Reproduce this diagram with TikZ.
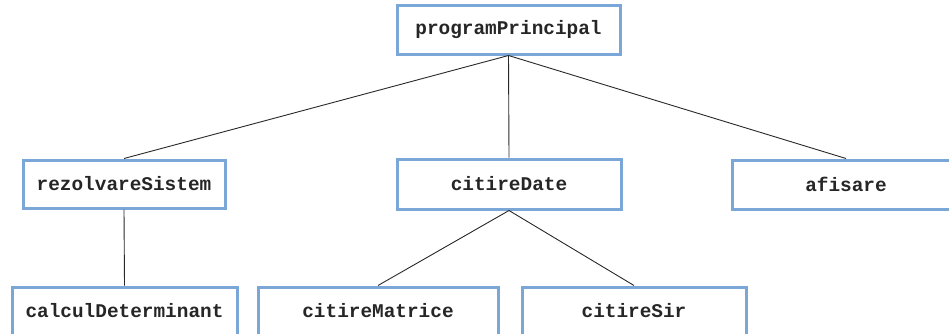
\documentclass[tikz,border=0pt]{standalone}
\usepackage{fontspec}
\setmonofont{Liberation Mono}
\definecolor{boxblue}{RGB}{122,166,216}
\definecolor{linegray}{RGB}{40,40,40}
\begin{document}
\begin{tikzpicture}[x=1pt,y=-1pt,
  fbox/.style={draw=boxblue, line width=3pt, fill=white, inner sep=0pt,
    minimum height=48pt, font=\fontsize{19.4}{22}\selectfont\ttfamily\bfseries, text=black!85},
  conn/.style={draw=linegray, line width=0.9pt}]
\useasboundingbox (0,0) rectangle (949,333);
\clip (0,0) rectangle (949,333);
\node[fbox, minimum width=223pt, minimum height=49pt] (pp) at (508.5,29.5) {programPrincipal};
\node[fbox, minimum width=202pt] (rs) at (124,184) {rezolvareSistem};
\node[fbox, minimum width=224pt, minimum height=50pt] (cd) at (509,184) {citireDate};
\node[fbox, minimum width=228pt, minimum height=49pt] (af) at (846,184.5) {afisare};
\node[fbox, minimum width=225pt] (cdet) at (124.5,311) {calculDeterminant};
\node[fbox, minimum width=240pt] (cm) at (378,311) {citireMatrice};
\node[fbox, minimum width=224pt] (cs) at (634,311) {citireSir};
\draw[conn] (pp.south) -- (rs.north);
\draw[conn] (pp.south) -- (cd.north);
\draw[conn] (pp.south) -- (af.north);
\draw[conn] (rs.south) -- (cdet.north);
\draw[conn] (cd.south) -- (cm.north);
\draw[conn] (cd.south) -- (cs.north);
\end{tikzpicture}
\end{document}
